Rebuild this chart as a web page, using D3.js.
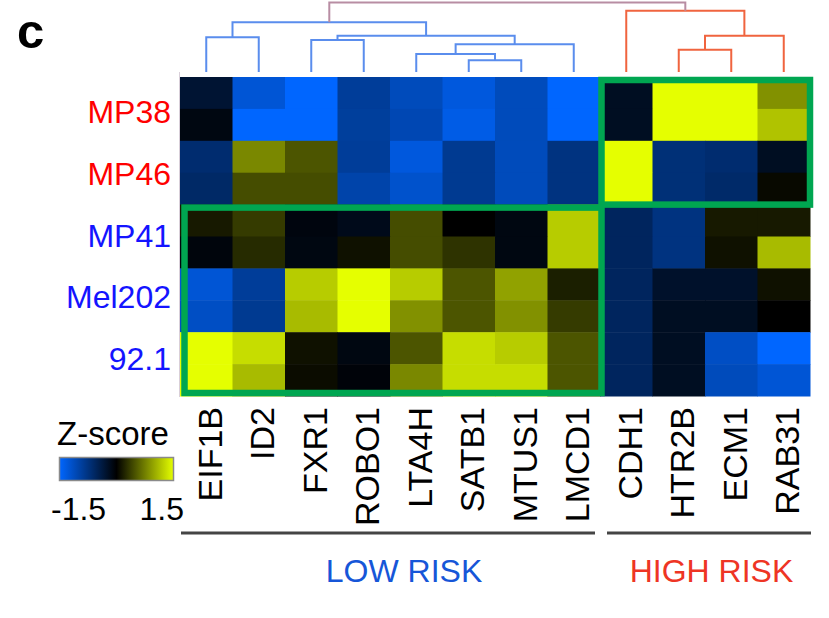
<!DOCTYPE html>
<html>
<head>
<meta charset="utf-8">
<script src="https://cdn.jsdelivr.net/npm/d3@7"></script>
<style>
  html, body { margin: 0; padding: 0; background: #fff; }
  svg { display: block; font-family: "Liberation Sans", Arial, sans-serif; }
</style>
</head>
<body>
<svg id="chart" width="829" height="618"></svg>
<script>
// Genes (columns), in dendrogram leaf order
const genes = ["EIF1B", "ID2", "FXR1", "ROBO1", "LTA4H", "SATB1", "MTUS1", "LMCD1",
               "CDH1", "HTR2B", "ECM1", "RAB31"];
const lowRiskGenes = genes.slice(0, 8);
const highRiskGenes = genes.slice(8);

// Cell lines, each with two replicate rows of z-scores
const cellLines = ["MP38", "MP46", "MP41", "Mel202", "92.1"];
const highRiskLines = ["MP38", "MP46"];

const mp38 = [
  [-0.30, -1.25, -1.50, -0.90, -1.10, -1.30, -1.10, -1.50, -0.20, 1.50, 1.50, 0.85],
  [-0.10, -1.50, -1.50, -0.92, -1.05, -1.35, -1.10, -1.50, -0.20, 1.50, 1.50, 1.15]
];
const mp46 = [
  [-0.65, 0.80, 0.50, -0.90, -1.30, -0.85, -1.10, -0.75, 1.50, -0.70, -0.65, -0.20],
  [-0.60, 0.45, 0.45, -1.00, -1.20, -0.85, -1.10, -0.75, 1.50, -0.70, -0.62, 0.05]
];
const mp41 = [
  [0.15, 0.35, -0.08, -0.15, 0.45, 0.00, -0.10, 1.20, -0.55, -0.75, 0.15, 0.15],
  [-0.07, 0.25, -0.10, 0.10, 0.45, 0.30, -0.10, 1.20, -0.55, -0.75, 0.10, 1.10]
];
const mel202 = [
  [-1.25, -0.90, 1.20, 1.50, 1.20, 0.50, 0.95, 0.18, -0.55, -0.25, -0.25, 0.10],
  [-1.15, -0.85, 1.10, 1.50, 0.85, 0.50, 0.85, 0.35, -0.55, -0.20, -0.20, 0.00]
];
const line921 = [
  [1.50, 1.30, 0.10, -0.10, 0.50, 1.30, 1.20, 0.50, -0.55, -0.20, -1.15, -1.50],
  [1.50, 1.10, 0.07, -0.05, 0.80, 1.30, 1.30, 0.50, -0.55, -0.20, -1.10, -1.25]
];
const replicateValues = [mp38, mp46, mp41, mel202, line921];

// Column clustering: [left child, right child, merge height]; leaves are 0..11
const merges = [
  [5, 6, 0.17],   // 12
  [4, 12, 0.26],  // 13
  [13, 7, 0.40],  // 14
  [2, 3, 0.46],   // 15
  [0, 1, 0.50],   // 16
  [15, 14, 0.52], // 17
  [16, 17, 0.715],// 18
  [9, 10, 0.32],  // 19
  [19, 11, 0.52], // 20
  [8, 20, 0.88],  // 21
  [18, 21, 1.00]  // 22
];

// Color legend
const legendTitle = "Z-score";
const legendTicks = [-1.5, 1.5];
const groupLabels = ["LOW RISK", "HIGH RISK"];

// ---------------------------------------------------------------
const svg = d3.select("#chart");

const rows = [];
cellLines.forEach((line, i) => {
  replicateValues[i].forEach((vals, r) => {
    rows.push({ id: line + "_" + r, line, vals });
  });
});

const x = d3.scaleBand().domain(genes).range([180, 810]);
const y = d3.scaleBand().domain(rows.map(d => d.id)).range([77, 396]);
const color = d3.scaleLinear()
  .domain([-1.5, 0, 1.5])
  .range(["#0066ff", "#000000", "#e5ff00"])
  .clamp(true);

// Heatmap cells
const cells = [];
rows.forEach(r => r.vals.forEach((v, j) => cells.push({ row: r.id, gene: genes[j], v })));
svg.append("g").selectAll("rect").data(cells).join("rect")
  .attr("x", d => x(d.gene))
  .attr("y", d => y(d.row))
  .attr("width", x.bandwidth() + 0.5)
  .attr("height", y.bandwidth() + 0.5)
  .attr("fill", d => color(d.v));

// Faint row-side rule
svg.append("line")
  .attr("x1", 179.5).attr("x2", 179.5)
  .attr("y1", 72).attr("y2", 397)
  .attr("stroke", "#d9cfd9").attr("stroke-width", 1);

// Group boxes
const green = "#00a651";
const xEnd = x.range()[1], xStart = x.range()[0];
const xSplit = x(highRiskGenes[0]);
const yTop = y.range()[0], yBot = y.range()[1];
const ySplit = y(rows.find(r => !highRiskLines.includes(r.line)).id);
const boxes = [
  { x0: xSplit + 1.5, x1: xEnd, y0: yTop + 3, y1: ySplit },
  { x0: xStart + 4.5, x1: xSplit + 1.5, y0: ySplit + 3, y1: yBot - 3 }
];
svg.append("g").selectAll("rect").data(boxes).join("rect")
  .attr("x", d => d.x0).attr("y", d => d.y0)
  .attr("width", d => d.x1 - d.x0).attr("height", d => d.y1 - d.y0)
  .attr("fill", "none").attr("stroke", green).attr("stroke-width", 6.5);

// Dendrogram
const hScale = d3.scaleLinear().domain([0, 1]).range([72, 2.5]);
const nodes = genes.map((g, i) => ({ x: x(g) + x.bandwidth() / 2, h: 0 }));
merges.forEach(([a, b, h]) => {
  nodes.push({ x: (nodes[a].x + nodes[b].x) / 2, h, a, b });
});
const rootId = nodes.length - 1;
const branchColor = {};
function paint(id, c) {
  branchColor[id] = c;
  const n = nodes[id];
  if (n.a !== undefined) { paint(n.a, c); paint(n.b, c); }
}
paint(nodes[rootId].a, "#5a8ded");
paint(nodes[rootId].b, "#f0643f");
branchColor[rootId] = "#b88da3";

const dg = svg.append("g").attr("fill", "none").attr("stroke-width", 2);
nodes.forEach((n, id) => {
  if (n.a === undefined) return;
  const c = branchColor[id];
  const A = nodes[n.a], B = nodes[n.b];
  const path = d3.path();
  path.moveTo(A.x, hScale(A.h));
  path.lineTo(A.x, hScale(n.h));
  path.lineTo(B.x, hScale(n.h));
  path.lineTo(B.x, hScale(B.h));
  dg.append("path").attr("d", path.toString()).attr("stroke", c)
    .attr("stroke-linejoin", "miter");
});

// Panel letter
svg.append("text").attr("x", 17).attr("y", 48)
  .attr("font-size", 49).attr("font-weight", "bold").attr("fill", "#000")
  .text("c");

// Row labels
const labelY = d3.scalePoint().domain(cellLines).range([123, 370]);
svg.append("g").selectAll("text").data(cellLines).join("text")
  .attr("x", 171).attr("y", d => labelY(d))
  .attr("text-anchor", "end").attr("font-size", 32)
  .attr("fill", d => highRiskLines.includes(d) ? "#ff0000" : "#1414ff")
  .text(d => d);

// Column labels (rotated)
svg.append("g").selectAll("text").data(genes).join("text")
  .attr("transform", d => `translate(${x(d) + x.bandwidth() / 2 + 15.5},407) rotate(-90)`)
  .attr("text-anchor", "end").attr("font-size", 34).attr("fill", "#000")
  .text(d => d);

// Group brackets and labels
const groups = [
  { label: groupLabels[0], x0: xStart + 1, x1: x(lowRiskGenes[lowRiskGenes.length - 1]) + x.bandwidth() - 5, color: "#1656d8" },
  { label: groupLabels[1], x0: xSplit + 7, x1: xEnd + 1, color: "#ee3524" }
];
svg.append("g").selectAll("line").data(groups).join("line")
  .attr("x1", d => d.x0).attr("x2", d => d.x1)
  .attr("y1", 533).attr("y2", 533)
  .attr("stroke", "#444").attr("stroke-width", 3);
svg.append("g").selectAll("text").data(groups).join("text")
  .attr("x", (d, i) => i === 0 ? 404 : 711.5).attr("y", 582)
  .attr("text-anchor", "middle").attr("font-size", 32)
  .attr("fill", d => d.color)
  .text(d => d.label);

// Color legend
const defs = svg.append("defs");
const grad = defs.append("linearGradient").attr("id", "zgrad");
[-1.5, 0, 1.5].forEach(v => {
  grad.append("stop")
    .attr("offset", ((v + 1.5) / 3 * 100) + "%")
    .attr("stop-color", color(v));
});
svg.append("text").attr("x", 57).attr("y", 445)
  .attr("font-size", 33).attr("fill", "#000").text(legendTitle);
svg.append("rect").attr("x", 59.5).attr("y", 457.5).attr("width", 114).attr("height", 23)
  .attr("fill", "url(#zgrad)").attr("stroke", "#8a8a8a").attr("stroke-width", 1.5);
svg.append("text").attr("x", 51).attr("y", 520).attr("font-size", 32)
  .attr("text-anchor", "start").attr("fill", "#000").text(legendTicks[0]);
svg.append("text").attr("x", 184).attr("y", 520).attr("font-size", 32)
  .attr("text-anchor", "end").attr("fill", "#000").text(legendTicks[1]);
</script>
</body>
</html>
